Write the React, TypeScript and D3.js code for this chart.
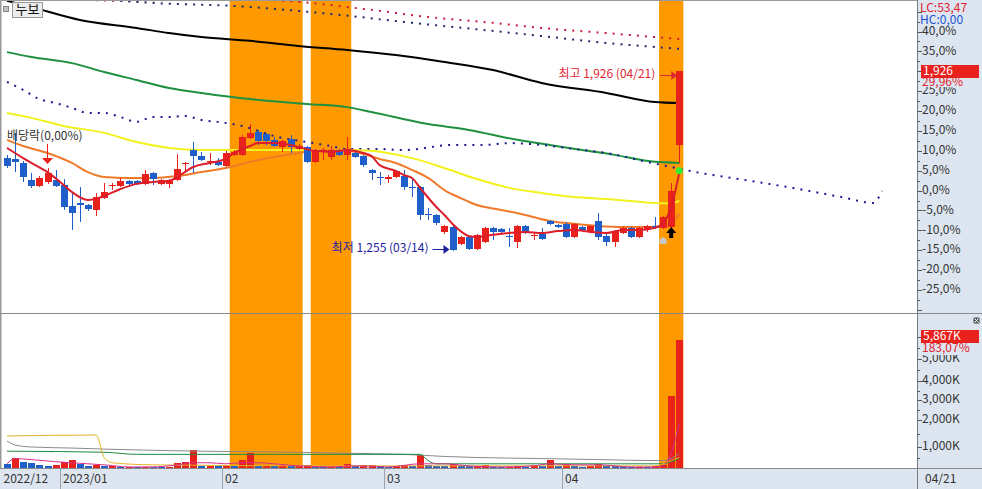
import React from "react";
import * as d3 from "d3";

const W = 982;
const H = 489;
const PLOT_R = 917;
const BASE = 1482; // previous close = 0%
const FONT = "'Noto Sans CJK KR','Noto Sans',sans-serif";

const monthLabels = ["2022/12", "2023/01", "02", "03", "04"];
const monthDays = [7, 20, 20, 22, 15];

const opens = [1603,1600,1585,1522,1499,1514,1522,1503,1425,1436,1428,1410,1454,1499,1499,1518,1518,1507,1548,1507,1507,1522,1581,1633,1611,1589,1589,1574,1615,1615,1678,1700,1693,1671,1644,1674,1637,1644,1589,1626,1607,1633,1615,1622,1611,1559,1531,1525,1533,1536,1497,1495,1393,1391,1328,1346,1283,1309,1264,1290,1343,1339,1311,1290,1350,1315,1320,1369,1354,1358,1309,1346,1331,1369,1313,1290,1324,1343,1309,1339,1350,1343,1346,1652];
const highs = [1615,1697,1592,1548,1536,1566,1559,1525,1473,1495,1432,1473,1510,1510,1529,1522,1522,1559,1551,1525,1525,1618,1589,1663,1626,1622,1603,1630,1633,1689,1730,1708,1697,1682,1671,1689,1656,1648,1637,1641,1648,1637,1682,1626,1615,1562,1551,1540,1559,1559,1529,1499,1417,1395,1354,1350,1313,1313,1320,1346,1346,1343,1343,1354,1354,1324,1343,1372,1358,1365,1361,1350,1354,1399,1328,1335,1346,1346,1346,1354,1384,1387,1510,1926];
const lows = [1566,1551,1514,1492,1495,1507,1495,1410,1335,1365,1406,1387,1451,1484,1495,1499,1503,1503,1503,1503,1492,1518,1548,1548,1592,1577,1574,1570,1611,1611,1674,1652,1652,1644,1626,1622,1633,1585,1585,1596,1596,1611,1596,1603,1570,1522,1503,1510,1529,1484,1458,1372,1372,1354,1320,1255,1279,1261,1261,1287,1298,1324,1272,1268,1320,1298,1298,1354,1343,1305,1305,1331,1328,1298,1276,1272,1320,1305,1305,1328,1339,1339,1343,1585];
const closes = [1574,1589,1533,1499,1529,1548,1499,1421,1399,1428,1413,1458,1477,1503,1518,1507,1507,1544,1525,1522,1522,1562,1585,1611,1596,1592,1577,1622,1626,1682,1697,1667,1667,1648,1667,1644,1648,1589,1633,1633,1633,1615,1637,1607,1577,1548,1527,1533,1555,1495,1494,1391,1389,1361,1350,1261,1309,1264,1317,1343,1328,1328,1307,1350,1324,1318,1302,1358,1346,1309,1358,1335,1350,1309,1290,1331,1343,1309,1343,1350,1343,1384,1482,1926];

// volume in thousands of shares
const volumePrev = 260;
const volumes = [200,500,300,250,150,100,150,300,400,200,100,120,100,110,60,60,55,70,60,50,60,250,300,850,100,110,100,150,100,400,700,100,120,80,150,100,150,160,50,45,60,50,200,100,120,130,100,60,100,150,100,600,120,100,95,200,100,95,110,120,70,60,70,110,70,150,100,400,100,120,100,60,100,200,100,90,70,60,70,60,100,150,3204.8,5867];

// highlighted signal periods (slot ranges)
const bands = [[28, 36], [38, 42], [81, 83]];

// moving averages / indicator lines: [slot, price]
const ma5 = [[0,1641],[2,1603],[3,1585],[5,1551],[7,1503],[8,1477],[10,1447],[11,1451],[12,1462],[14,1488],[16,1507],[18,1514],[20,1518],[21,1533],[23,1570],[25,1585],[27,1600],[28,1622],[30,1648],[31,1659],[33,1659],[35,1652],[36,1644],[38,1630],[40,1626],[42,1633],[44,1622],[45,1611],[46,1577],[48,1555],[49,1540],[50,1529],[51,1492],[53,1421],[54,1391],[55,1358],[57,1313],[58,1309],[60,1317],[62,1324],[64,1328],[66,1324],[68,1331],[70,1335],[72,1328],[74,1324],[76,1335],[78,1335],[80,1343],[81,1361],[82,1421],[83,1548]];
const ma20 = [[0,1671],[2,1648],[5,1622],[8,1585],[10,1551],[12,1533],[15,1529],[18,1529],[21,1536],[24,1551],[27,1566],[30,1589],[33,1607],[36,1622],[39,1633],[42,1630],[44,1618],[46,1600],[48,1585],[50,1559],[52,1529],[54,1484],[56,1454],[58,1428],[61,1410],[64,1391],[67,1369],[70,1358],[73,1350],[76,1346],[79,1346],[81,1350],[82,1361],[83,1395]];
const ma60 = [[0,1771],[3,1753],[7,1723],[12,1697],[16,1663],[20,1641],[24,1633],[30,1633],[36,1633],[42,1633],[45,1630],[47,1622],[50,1603],[54,1566],[58,1525],[62,1492],[66,1473],[70,1458],[74,1451],[80,1436],[82,1434],[83,1445]];
const ma90 = [[0,1998],[3,1980],[8,1957],[12,1924],[16,1894],[20,1864],[24,1846],[30,1823],[37,1805],[42,1793],[45,1775],[52,1730],[57,1708],[63,1671],[67,1652],[71,1633],[75,1615],[80,1589],[83,1585]];
const ma120 = [[0,2189],[3,2166],[9,2118],[16,2088],[20,2069],[24,2054],[30,2040],[36,2021],[42,2006],[48,1987],[54,1961],[60,1931],[66,1883],[74,1846],[80,1812],[83,1808]];
const leadSpan = [[0,1887],[2,1857],[4,1823],[6,1808],[8,1790],[10,1771],[12,1771],[14,1756],[16,1738],[18,1756],[20,1756],[22,1760],[24,1745],[26,1738],[29,1723],[33,1685],[37,1663],[40,1648],[42,1637],[46,1637],[49,1633],[55,1652],[59,1652],[62,1659],[66,1652],[70,1637],[74,1622],[79,1589],[82,1570],[85,1551],[91,1522],[97,1492],[103,1458],[107,1436],[108,1481]];
const envUpper = [[6,2203],[14,2189],[20,2192],[28,2196],[36,2185],[44,2159],[52,2129],[60,2107],[66,2088],[74,2069],[80,2054],[83,2047]];
const envLower = [[10,2199],[18,2181],[28,2170],[40,2140],[50,2107],[60,2077],[66,2058],[74,2032],[80,2017],[83,2010]];

// volume moving averages: [slot, K]
const volMaGold = [[0,1407],[11,1444],[12,500],[13,250],[18,150],[40,100],[80,100],[81,200],[82,350],[83,500]];
const volMaGray = [[0,1222],[1,1074],[3,1000],[8,950],[12,900],[24,800],[36,750],[42,700],[49,650],[54,550],[58,500],[66,450],[73,400],[81,350],[82,450],[83,700]];
const volMaGreen = [[0,800],[12,750],[16,650],[51,650],[52,350],[53,200],[81,200],[82,300],[83,450]];
const volMa5 = [[0,200],[1,450],[3,400],[6,300],[8,250],[10,200],[12,150],[15,50],[18,50],[21,150],[23,250],[25,250],[27,200],[29,250],[31,250],[33,200],[36,100],[40,50],[43,100],[47,50],[51,200],[54,200],[57,100],[61,50],[65,100],[67,200],[70,150],[73,150],[77,50],[80,50],[81,100],[82,717],[83,1876]];

const pctTicks = [-25,-20,-15,-10,-5,0,5,10,15,20,25,30,35,40];
const volTicks = [1000,2000,3000,4000,5000];

const RED = "#e8211d";
const BLUE = "#1f5fc9";
const AXIS_BG = "#dde6f0";

export default function App() {
  const x = d3.scaleLinear().domain([0, 113]).range([7, 7 + 113 * 8.1]);
  const yPrice = d3.scaleLinear().domain([BASE * 0.75, BASE * 1.4]).range([290, 31.5]);
  const yPct = d3.scaleLinear().domain([-25, 40]).range([290, 31.5]);
  const yVol = d3.scaleLinear().domain([0, 1000, 2000, 3000, 4000, 5000, 6000]).range([468, 447, 420, 400, 381, 359, 337]);

  const pLine = d3.line<number[]>().x((d) => x(d[0])).y((d) => yPrice(d[1])).curve(d3.curveMonotoneX);
  const vLine = d3.line<number[]>().x((d) => x(d[0])).y((d) => yVol(d[1])).curve(d3.curveMonotoneX);

  const starts: number[] = [];
  monthDays.reduce((acc, n) => { starts.push(acc); return acc + n; }, 0);
  const half = 4.05;

  const fmtPct = (v: number) => v.toFixed(1).replace(".", ",") + "%";
  const fmtVol = (v: number) => d3.format(",")(v) + "K";

  const n = closes.length;
  const last = n - 1;
  const lastPctVal = (closes[last] / BASE - 1) * 100;
  const lastPct = lastPctVal.toFixed(2).replace(".", ",") + "%";
  const volRatio = ((volumes[last] / volumes[last - 1]) * 100).toFixed(2).replace(".", ",") + "%";

  const minIdx = d3.minIndex(lows);
  const maxIdx = d3.maxIndex(highs);

  const minorPct = d3.range(-30, 45.1, 2.5);
  const minorVol = d3.range(500, 6001, 500);
  // labels fully hidden under the current-price tag are not drawn
  const shownPct = pctTicks.filter((p) => Math.abs(yPct(p) - yPct(lastPctVal)) > 6);

  return (
    <svg width={W} height={H} style={{ position: "absolute", left: 0, top: 0 }} fontFamily={FONT}>
      <defs>
        <clipPath id="pc"><rect x={1} y={1} width={PLOT_R - 1} height={312} /></clipPath>
        <clipPath id="vc"><rect x={1} y={315} width={PLOT_R - 1} height={153} /></clipPath>
      </defs>
      <rect width={W} height={H} fill="#fff" />

      {/* highlight bands */}
      {bands.map(([a, b], i) => (
        <rect key={"b" + i} x={x(a) - half} y={1} width={x(b) - x(a) + 2 * half} height={467} fill="#ff9900" />
      ))}

      {/* price panel */}
      <g clipPath="url(#pc)">
        <path d={pLine(envUpper) || ""} fill="none" stroke="#c8203c" strokeWidth={2} strokeDasharray="2 6.1" />
        <path d={pLine(envLower) || ""} fill="none" stroke="#1e2a6e" strokeWidth={2} strokeDasharray="2 6.1" />
        <path d={pLine(ma120) || ""} fill="none" stroke="#000" strokeWidth={2} />
        <path d={pLine(ma90) || ""} fill="none" stroke="#1f9040" strokeWidth={2} />
        <path d={pLine(leadSpan) || ""} fill="none" stroke="#1c1c8c" strokeWidth={2} strokeDasharray="2 6.1" />
        <path d={pLine(ma60) || ""} fill="none" stroke="#f2f21e" strokeWidth={2} />
        <path d={pLine(ma20) || ""} fill="none" stroke="#f07a2a" strokeWidth={2} />
        {closes.map((c, i) => {
          const o = opens[i];
          const up = c >= o;
          const col = up ? RED : BLUE;
          const cx = Math.round(x(i));
          const top = yPrice(Math.max(o, c));
          const bot = yPrice(Math.min(o, c));
          return (
            <g key={"c" + i} shapeRendering="crispEdges">
              <line x1={cx + 0.5} x2={cx + 0.5} y1={yPrice(highs[i])} y2={yPrice(lows[i])} stroke={col} strokeWidth={1} />
              <rect x={cx - 3} y={Math.round(top)} width={7} height={Math.max(1, Math.round(bot - top))} fill={col} />
            </g>
          );
        })}
        <path d={pLine(ma5) || ""} fill="none" stroke="#dc1e2a" strokeWidth={2} />
      </g>

      {/* annotations */}
      <text x={7} y={137} fontSize={12} fill="#333" dominantBaseline="middle">배당락(0,00%)</text>
      <line x1={47.5} x2={47.5} y1={144} y2={158} stroke={RED} strokeWidth={1} />
      <polygon points="42,158 53,158 47.5,164" fill={RED} />

      <text x={x(maxIdx) - 24} y={75} fontSize={12} fill="#e0282f" textAnchor="end" dominantBaseline="middle">
        {"최고 " + d3.format(",")(highs[maxIdx]) + " (04/21)"}
      </text>
      <line x1={x(maxIdx) - 19} x2={x(maxIdx) - 7} y1={75.5} y2={75.5} stroke="#e0282f" strokeWidth={1} />
      <polygon points={`${x(maxIdx) - 8},71 ${x(maxIdx) - 2},75.5 ${x(maxIdx) - 8},80`} fill="#e0282f" />

      <text x={x(minIdx) - 24} y={249} fontSize={12} fill="#1e22a0" textAnchor="end" dominantBaseline="middle">
        {"최저 " + d3.format(",")(lows[minIdx]) + " (03/14)"}
      </text>
      <line x1={x(minIdx) - 20} x2={x(minIdx) - 8} y1={249.5} y2={249.5} stroke="#1e22a0" strokeWidth={1} />
      <polygon points={`${x(minIdx) - 9},245 ${x(minIdx) - 3},249.5 ${x(minIdx) - 9},254`} fill="#1e22a0" />

      {/* signal marks */}
      <polygon points={`${x(82) - 5},233 ${x(82) + 5},233 ${x(82)},227`} fill="#000" />
      <rect x={x(82) - 2} y={233} width={4} height={5} fill="#000" />
      <polygon points={`${x(81)},237 ${x(81) + 4},240 ${x(81) + 3},244 ${x(81) - 3},244 ${x(81) - 4},240`} fill="#c8c8c8" />
      <circle cx={x(83)} cy={yPrice(1556)} r={3.5} fill="#33ee33" />

      {/* top-left label */}
      <rect x={3.5} y={6.5} width={5} height={5} fill="#c0c0c0" stroke="#888" />
      <rect x={12.5} y={2.5} width={30} height={15} fill="#ececec" stroke="#999" />
      <text x={27.5} y={10.5} fontSize={13} fill="#111" textAnchor="middle" dominantBaseline="middle">누보</text>

      {/* volume panel */}
      <g clipPath="url(#vc)">
        {volumes.map((v, i) => {
          const prev = i === 0 ? volumePrev : volumes[i - 1];
          const col = v >= prev ? RED : BLUE;
          const cx = Math.round(x(i));
          const top = yVol(v);
          return <rect key={"v" + i} x={cx - 3} y={top} width={7} height={yVol(0) - top} fill={col} shapeRendering="crispEdges" />;
        })}
        <path d={vLine(volMaGray) || ""} fill="none" stroke="#8a8a8a" strokeWidth={1} />
        <path d={vLine(volMaGreen) || ""} fill="none" stroke="#1f8a3a" strokeWidth={1} />
        <path d={vLine(volMaGold) || ""} fill="none" stroke="#e6b12a" strokeWidth={1} />
        <path d={vLine(volMa5) || ""} fill="none" stroke="#d8308c" strokeWidth={1} />
      </g>

      {/* frame lines */}
      <line x1={0} x2={W} y1={0.5} y2={0.5} stroke="#9a9a9a" />
      <line x1={0.5} x2={0.5} y1={0} y2={H} stroke="#9a9a9a" strokeWidth={2} />

      {/* right axis */}
      <rect x={PLOT_R} y={0} width={W - PLOT_R} height={H} fill={AXIS_BG} />
      <line x1={PLOT_R + 0.5} x2={PLOT_R + 0.5} y1={0} y2={H} stroke="#7a7a7a" />
      <line x1={0} x2={W} y1={313.5} y2={313.5} stroke="#8a8a8a" />
      {minorPct.map((p) => (
        <line key={"mp" + p} x1={PLOT_R} x2={PLOT_R + (p % 5 === 0 ? 5 : 3)} y1={Math.round(yPct(p)) + 0.5} y2={Math.round(yPct(p)) + 0.5} stroke="#555" />
      ))}
      {shownPct.map((p) => (
        <text key={"tp" + p} x={PLOT_R + 5} y={yPct(p)} fontSize={12} fill="#333" dominantBaseline="middle">{fmtPct(p)}</text>
      ))}
      {minorVol.map((v) => (
        <line key={"mv" + v} x1={PLOT_R} x2={PLOT_R + (v % 1000 === 0 ? 5 : 3)} y1={Math.round(yVol(v)) + 0.5} y2={Math.round(yVol(v)) + 0.5} stroke="#555" />
      ))}
      {volTicks.map((v) => (
        <text key={"tv" + v} x={PLOT_R + 5} y={yVol(v)} fontSize={12} fill="#333" dominantBaseline="middle">{fmtVol(v)}</text>
      ))}

      <text x={920} y={9} fontSize={12} fill="#e0202c" dominantBaseline="middle">LC:53,47</text>
      <text x={920} y={21} fontSize={12} fill="#2050d0" dominantBaseline="middle">HC:0,00</text>

      <rect x={921} y={65} width={58} height={13} fill={RED} />
      <text x={923} y={71.5} fontSize={12} fill="#fff" dominantBaseline="middle">{d3.format(",")(closes[last])}</text>
      <rect x={920} y={78} width={60} height={9} fill={AXIS_BG} />
      <text x={922} y={83} fontSize={12} fill="#e0202c" dominantBaseline="middle">{lastPct}</text>

      <rect x={921} y={330} width={58} height={13} fill={RED} />
      <text x={923} y={336.5} fontSize={12} fill="#fff" dominantBaseline="middle">{fmtVol(volumes[last])}</text>
      <rect x={920} y={343} width={60} height={12} fill={AXIS_BG} />
      <text x={922} y={349} fontSize={12} fill="#e0202c" dominantBaseline="middle">{volRatio}</text>

      <rect x={973.5} y={317.5} width={6} height={6} fill="#555" />
      <path d="M974.5,318.5 L978.5,322.5 M978.5,318.5 L974.5,322.5" stroke="#fff" strokeWidth={1} />

      {/* bottom axis */}
      <rect x={0} y={468} width={PLOT_R} height={H - 468} fill={AXIS_BG} />
      <line x1={0} x2={W} y1={468.5} y2={468.5} stroke="#8a8a8a" />
      {starts.map((s, i) => {
        const sx = i === 0 ? 1 : Math.round(x(s) - half) + 0.5;
        return (
          <g key={"m" + i}>
            {i > 0 && <line x1={sx} x2={sx} y1={469} y2={H} stroke="#9aa4b0" />}
            <text x={sx + 2.5} y={479.5} fontSize={12} fill="#333" dominantBaseline="middle">{monthLabels[i]}</text>
          </g>
        );
      })}
      <text x={925} y={479.5} fontSize={12} fill="#333" dominantBaseline="middle">04/21</text>
    </svg>
  );
}
